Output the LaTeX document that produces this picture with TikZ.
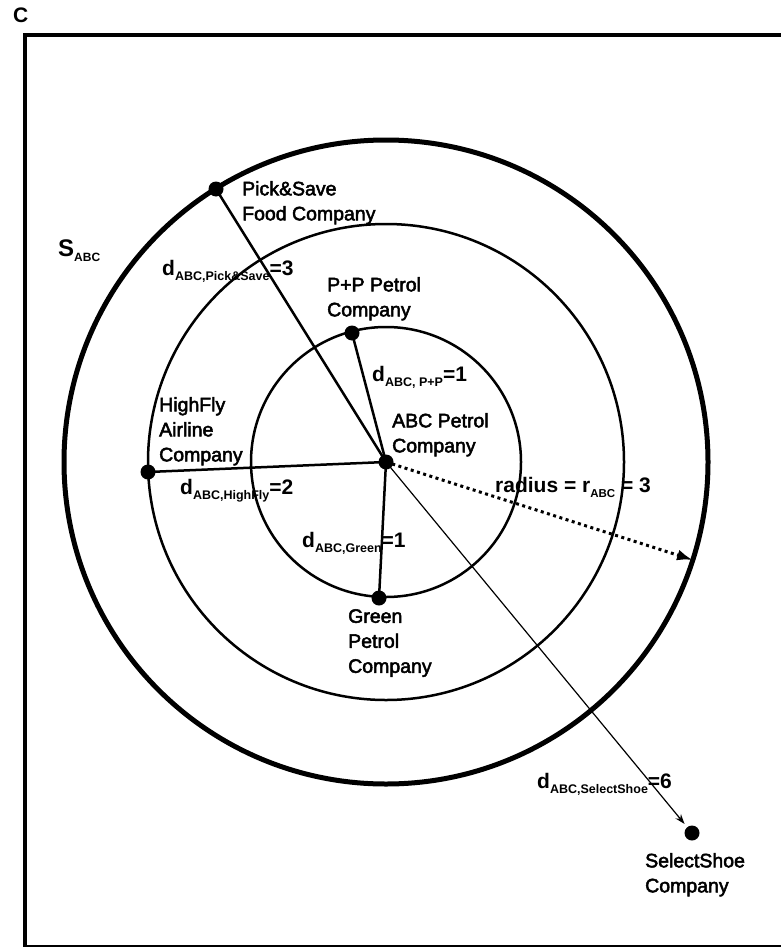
\documentclass[tikz,border=0pt]{standalone}
\usepackage{fontspec}
\setmainfont{Liberation Sans}
\usetikzlibrary{arrows.meta}

% lowered, smaller text used for the index of a distance
\newcommand\subtxt[2][12.5]{\raisebox{-5pt}{\fontsize{#1}{#1}\selectfont #2}}
% slightly heavier glyphs: fill and outline the text
\newcommand\heavier[1]{\special{pdf:literal direct 2 Tr 0.5 w}#1\special{pdf:literal direct 0 Tr}}

\tikzset{
  ring/.style={line width=2.5pt},
  outerring/.style={line width=5pt},
  spoke/.style={line width=2.5pt},
  firm/.style={circle, fill=black, inner sep=0pt, minimum size=15pt},
  firmname/.style={anchor=north west, inner sep=0pt, align=left,
    font=\fontsize{19.5}{25}\selectfont},
  dist/.style={anchor=base west, inner sep=0pt,
    font=\fontsize{21}{21}\selectfont\bfseries},
}

\begin{document}
\begin{tikzpicture}[x=1pt,y=-1pt]
\useasboundingbox (0,0) rectangle (781,947);

% frame
\draw[line width=4pt] (25,35) rectangle (840,946.5);

% companies
\node[firm] (abc) at (386,462) {};
\node[firm] (pp)  at (352,333) {};
\node[firm] (ps)  at (216,189) {};
\node[firm] (hf)  at (148,472) {};
\node[firm] (gr)  at (379,598) {};
\node[firm] (ss)  at (692,833) {};
\coordinate (rim) at (693,560);

% distance rings around ABC
\draw[ring] (abc.center) circle (135pt);
\draw[ring] (abc.center) circle (238pt);
\draw[outerring] (abc.center) circle (322pt);

% distances
\draw[spoke] (abc.center) -- (ps.center);
\draw[spoke] (abc.center) -- (pp.center);
\draw[spoke] (abc.center) -- (hf.center);
\draw[spoke] (abc.center) -- (gr.center);
\draw[line width=1.2pt, shorten >=4pt, -{Stealth[length=10pt,width=7pt]}]
  (abc.center) -- (ss);
\draw[line width=3pt, dash pattern=on 3pt off 3.5pt,
  -{Latex[length=16pt,width=11pt]}] (abc.center) -- (rim);

% distance labels
\node[dist] (dps) at (162,275) {d\subtxt{ABC,Pick\&Save}=3};
\node[dist] (dpp) at (372,381) {d\subtxt{ABC, P+P}=1};
\node[dist] (dhf) at (180,494) {d\subtxt{ABC,HighFly}=2};
\node[dist] (dgr) at (302,547) {d\subtxt{ABC,Green}=1};
\node[dist] (rad) at (495,492) {radius = r\subtxt[11.5]{ABC} = 3};
\node[dist] (dss) at (537,788) {d\subtxt{ABC,SelectShoe}=6};
\node[dist, font=\fontsize{24}{24}\selectfont\bfseries] (sabc) at (58,256) {S\subtxt[12]{ABC}};
\node[dist] (clabel) at (13,23) {C};

% company names
\node[firmname] (psl)  at (242,181) {\heavier{Pick\&Save\\Food Company}};
\node[firmname] (ppl)  at (327,277) {\heavier{P+P Petrol\\Company}};
\node[firmname] (abcl) at (392,413) {\heavier{ABC Petrol\\Company}};
\node[firmname] (hfl)  at (159,397) {\heavier{HighFly\\Airline\\Company}};
\node[firmname] (grl)  at (348,609) {\heavier{Green\\Petrol\\Company}};
\node[firmname] (ssl)  at (645,853) {\heavier{SelectShoe\\Company}};
\end{tikzpicture}
\end{document}
